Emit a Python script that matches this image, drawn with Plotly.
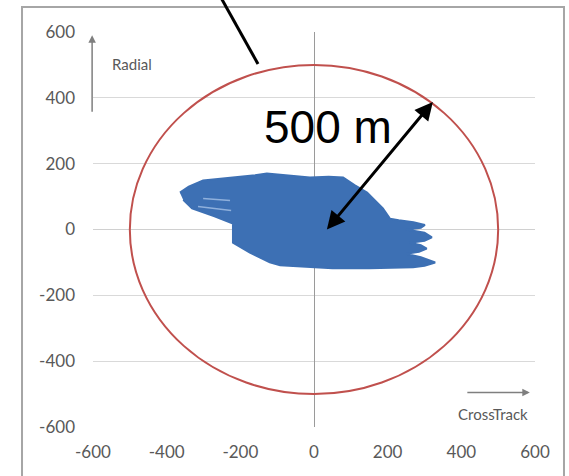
import plotly.graph_objects as go

# Blob outline (CrossTrack, Radial)
blob_x = [-364, -340, -301, -250, -209, -160, -128, -60, -11, 40, 79, 110, 144, 187, 206,
          230, 270, 301, 290, 250, 300, 320, 300, 260, 290, 306, 285, 250, 290, 329,
          300, 269, 150, 50, -40, -92, -120, -174, -220, -220, -270, -331, -355]
blob_y = [112, 130, 149, 155, 158, 165, 170, 162, 158, 160, 158, 135, 112, 64, 33,
          28, 22, 14, 5, 0, -10, -24, -34, -40, -48, -58, -68, -74, -84, -100,
          -110, -115, -118, -118, -112, -109, -100, -70, -40, 18, 40, 64, 90]

# Lighter streaks inside the left wedge
streak1_x = [-301, -228]
streak1_y = [94, 88]
streak2_x = [-315, -225]
streak2_y = [70, 58]

radius = 500
x_ticks = [-600, -400, -200, 0, 200, 400, 600]
x_labels = ["-600", "-400", "-200", "0", "200", "400", "600"]
y_ticks = [-600, -400, -200, 0, 200, 400, 600]
y_labels = ["-600", "-400", "-200", "0", "200", "400", "600"]

blue = "#3d70b4"
light_blue = "#8fb0dc"
gray_txt = "#595959"

fig = go.Figure()
fig.add_trace(go.Scatter(x=blob_x, y=blob_y, mode="lines", fill="toself",
                         fillcolor=blue, line=dict(color=blue, width=2),
                         hoverinfo="skip", showlegend=False))
for sx, sy in [(streak1_x, streak1_y), (streak2_x, streak2_y)]:
    fig.add_trace(go.Scatter(x=sx, y=sy, mode="lines", line=dict(color=light_blue, width=1.5),
                             hoverinfo="skip", showlegend=False))

fig.add_shape(type="circle", xref="x", yref="y", x0=-radius, y0=-radius, x1=radius, y1=radius,
              line=dict(color="#c0504d", width=2), layer="above")

# Outer chart border
fig.add_shape(type="rect", xref="paper", yref="paper", x0=-0.1606, y0=-0.2, x1=1.0656, y1=1.0633,
              line=dict(color="#a6a6a6", width=2), layer="below")
# Pointer line at top
fig.add_shape(type="line", xref="paper", yref="paper", x0=0.2830, y0=1.10, x1=0.3733, y1=0.919,
              line=dict(color="black", width=3))

# Radial arrow and label
fig.add_annotation(x=-0.002, y=590, xref="paper", yref="y", ax=0, ay=78, text="", showarrow=True,
                   arrowhead=2, arrowsize=1, arrowwidth=1.5, arrowcolor="#7f7f7f")
fig.add_annotation(x=-554, y=504, xref="x", yref="y", text="Radial", showarrow=False,
                   xanchor="left", yanchor="middle", font=dict(family="Lato", size=15, color=gray_txt))
# CrossTrack arrow and label
fig.add_annotation(x=586, y=-495, xref="x", yref="y", ax=-64, ay=0, text="", showarrow=True,
                   arrowhead=2, arrowsize=1, arrowwidth=1.5, arrowcolor="#7f7f7f")
fig.add_annotation(x=586, y=-559, xref="x", yref="y", text="CrossTrack", showarrow=False,
                   xanchor="right", yanchor="middle", font=dict(family="Lato", size=15, color=gray_txt))

# 500 m label and double arrow
fig.add_annotation(x=35, y=0, xref="x", yref="y", ax=326, ay=392, axref="x", ayref="y",
                   text="", showarrow=True, arrowhead=2, arrowside="end+start",
                   arrowsize=1.2, arrowwidth=3, arrowcolor="black")
fig.add_annotation(x=38, y=310, xref="x", yref="y", text="500 m", showarrow=False,
                   xanchor="center", yanchor="middle",
                   font=dict(family="Liberation Sans, Arial", size=46, color="black"))

fig.update_layout(
    width=569, height=476,
    margin=dict(l=93, r=34, t=32, b=49),
    paper_bgcolor="white", plot_bgcolor="white",
    showlegend=False,
    xaxis=dict(range=[-600, 600], tickvals=x_ticks, ticktext=x_labels, showgrid=False,
               zeroline=True, zerolinecolor="#9a9a9a", zerolinewidth=1, showline=False,
               ticks="", ticklabelstandoff=13,
               tickfont=dict(family="Lato", size=17, color=gray_txt)),
    yaxis=dict(range=[-600, 600], tickvals=y_ticks, ticktext=y_labels, showgrid=True,
               gridcolor="#d9d9d9", gridwidth=1, zeroline=True, zerolinecolor="#d0d0d0",
               zerolinewidth=1, showline=False, ticks="", ticklabelstandoff=17,
               tickfont=dict(family="Lato", size=17, color=gray_txt)),
)

fig.write_html("out.html", config={"displayModeBar": False},
               post_script="document.body.style.margin='0';")
